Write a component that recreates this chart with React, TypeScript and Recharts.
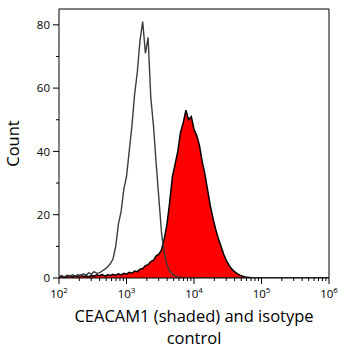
import React from "react";
import { ComposedChart, Area, Line, XAxis, YAxis, ReferenceLine } from "recharts";

// log10 of fluorescence intensity (bin centres)
const logIntensity = [
  2.0, 2.04, 2.08, 2.12, 2.16, 2.2, 2.24, 2.28, 2.32, 2.36,
  2.4, 2.44, 2.48, 2.52, 2.56, 2.6, 2.64, 2.68, 2.72, 2.76,
  2.8, 2.84, 2.88, 2.92, 2.96, 3.0, 3.04, 3.08, 3.12, 3.16,
  3.2, 3.24, 3.28, 3.32, 3.36, 3.4, 3.44, 3.48, 3.52, 3.56,
  3.6, 3.64, 3.68, 3.72, 3.76, 3.8, 3.84, 3.88, 3.92, 3.96,
  4.0, 4.04, 4.08, 4.12, 4.16, 4.2, 4.24, 4.28, 4.32, 4.36,
  4.4, 4.44, 4.48, 4.52, 4.56, 4.6, 4.64, 4.68, 4.72, 4.76,
  4.8, 4.84, 4.88, 6.0,
];

// CEACAM1 (shaded) counts
const ceacam1Counts = [
  0.3, 0.6, 0.2, 0.5, 0.8, 0.3, 0.6, 0.4, 0.9, 0.5,
  0.7, 0.4, 0.8, 0.6, 1.0, 0.7, 1.1, 0.6, 1.0, 0.8,
  1.2, 0.9, 1.3, 1.0, 1.5, 1.2, 1.8, 1.5, 2.2, 2.0,
  2.8, 3.0, 3.9, 4.2, 5.2, 5.6, 7.0, 7.5, 9.0, 12.5,
  17, 24, 32, 36, 40, 46, 49, 53, 50, 51,
  47, 45, 42, 37, 33, 28, 23, 19, 15.5, 12.5,
  10, 7.5, 5.5, 4.0, 2.8, 2.0, 1.4, 0.9, 0.6, 0.3,
  0.2, 0.1, 0, 0,
];

// isotype control counts
const isotypeCounts = [
  0.4, 0.8, 0.3, 0.9, 0.5, 1.0, 0.6, 1.1, 0.7, 1.3,
  0.9, 1.6, 1.2, 2.0, 1.5, 1.6, 2.2, 2.8, 3.5, 4.5,
  6, 10, 17, 21, 28, 32, 40, 48, 58, 65,
  75, 81, 71, 76, 57, 48, 36, 25, 14, 8,
  4, 2.2, 1.2, 0.7, 0.3, 0.2, 0, 0, 0, 0,
  0, 0, 0, 0, 0, 0, 0, 0, 0, 0,
  0, 0, 0, 0, 0, 0, 0, 0, 0, 0,
  0, 0, 0, 0,
];

const decadeExponents = [2, 3, 4, 5, 6];
const yTicks = [0, 10, 20, 30, 40, 50, 60, 70, 80];
const yLabelTicks = [0, 20, 40, 60, 80];
const yMax = 85;
const xTitle = ["CEACAM1 (shaded) and isotype", "control"];
const yTitle = "Count";

const data = logIntensity.map((l, i) => ({
  x: Math.pow(10, l),
  shaded: ceacam1Counts[i],
  isotype: isotypeCounts[i],
}));

const xTicks: number[] = [];
decadeExponents.forEach((e, idx) => {
  xTicks.push(Math.pow(10, e));
  if (idx < decadeExponents.length - 1) {
    for (let k = 2; k <= 9; k++) xTicks.push(k * Math.pow(10, e));
  }
});

const FONT = "'Open Sans', sans-serif";

const XTick = (props: any) => {
  const { x, y, payload } = props;
  const v = payload.value;
  const lg = Math.log10(v);
  const e = Math.round(lg);
  const major = Math.abs(lg - e) < 1e-6;
  return (
    <g>
      <line x1={x} x2={x} y1={y} y2={y + (major ? 6 : 3)} stroke="#000" strokeWidth={1} />
      {major && (
        <text x={x} y={y + 20} textAnchor="middle" fontSize={11.5} fontFamily={FONT} fill="#000">
          10<tspan dy={-5} fontSize={8}>{e}</tspan>
        </text>
      )}
    </g>
  );
};

const YTick = (props: any) => {
  const { x, y, payload } = props;
  const v = payload.value;
  const major = yLabelTicks.includes(v);
  return (
    <g>
      <line x1={x - (major ? 6 : 3)} x2={x} y1={y} y2={y} stroke="#000" strokeWidth={1} />
      {major && (
        <text x={x - 9} y={y} dy="0.36em" textAnchor="end" fontSize={11.5} fontFamily={FONT} fill="#000">
          {v}
        </text>
      )}
    </g>
  );
};

const XTitle = (props: any) => {
  const vb = props.viewBox || {};
  const cx = vb.x + vb.width / 2;
  return (
    <g>
      <text x={cx} y={vb.y + 44} textAnchor="middle" fontSize={16.5} fontFamily={FONT} fill="#000">
        {xTitle[0]}
      </text>
      <text x={cx} y={vb.y + 66} textAnchor="middle" fontSize={16.5} fontFamily={FONT} fill="#000">
        {xTitle[1]}
      </text>
    </g>
  );
};

const YTitle = (props: any) => {
  const vb = props.viewBox || {};
  const cx = vb.x + 12;
  const cy = vb.y + vb.height / 2;
  return (
    <text
      x={cx}
      y={cy}
      textAnchor="middle"
      dominantBaseline="central"
      fontSize={16.5}
      fontFamily={FONT}
      fill="#000"
      transform={`rotate(-90, ${cx}, ${cy})`}
    >
      {yTitle}
    </text>
  );
};

export default function App() {
  return (
    <div style={{ position: "absolute", left: 0, top: 0, width: 350, height: 348, background: "#fff" }}>
      <ComposedChart width={350} height={348} data={data} margin={{ top: 9, right: 21, bottom: 0, left: 0 }}>
        <XAxis
          dataKey="x"
          type="number"
          scale="log"
          domain={[100, 1000000]}
          ticks={xTicks}
          interval={0}
          allowDataOverflow
          height={70}
          tickSize={0}
          tickMargin={0}
          tickLine={false}
          tick={<XTick />}
          axisLine={{ stroke: "#000", strokeWidth: 1 }}
          label={{ content: <XTitle /> } as any}
        />
        <YAxis
          type="number"
          domain={[0, yMax]}
          ticks={yTicks}
          interval={0}
          allowDataOverflow
          width={59}
          tickSize={0}
          tickMargin={0}
          tickLine={false}
          tick={<YTick />}
          axisLine={{ stroke: "#000", strokeWidth: 1 }}
          label={{ content: <YTitle /> } as any}
        />
        <Area
          dataKey="shaded"
          type="linear"
          fill="#ff0000"
          fillOpacity={1}
          stroke="#000"
          strokeWidth={1.5}
          isAnimationActive={false}
          dot={false}
          activeDot={false}
        />
        <Line
          dataKey="isotype"
          type="linear"
          stroke="#3c3c3c"
          strokeWidth={1.4}
          dot={false}
          activeDot={false}
          isAnimationActive={false}
        />
        <ReferenceLine y={yMax} stroke="#000" strokeWidth={1} />
        <ReferenceLine x={1000000} stroke="#000" strokeWidth={1} />
      </ComposedChart>
    </div>
  );
}
